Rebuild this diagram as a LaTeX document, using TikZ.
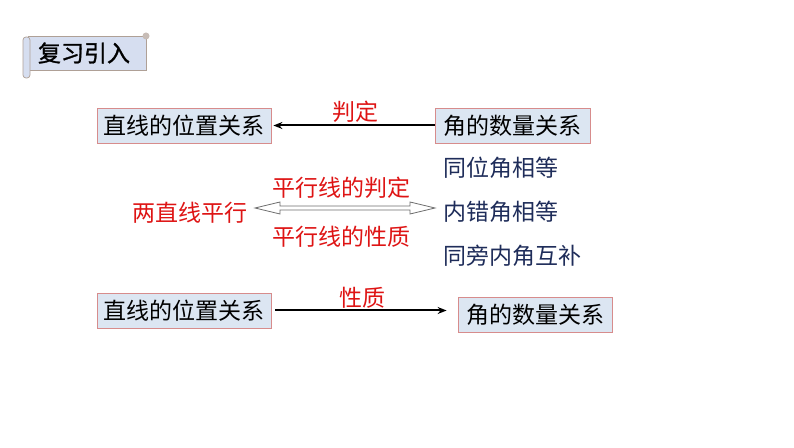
\documentclass[tikz,border=0pt]{standalone}
\usepackage{xcolor}
\usepackage{fontspec}
\usetikzlibrary{arrows.meta, positioning, calc}
\newfontfamily\cjk{Noto Sans CJK SC}
\newfontfamily\cjkheavy[FakeBold=1.2]{Noto Sans CJK SC}
\definecolor{boxfill}{RGB}{220,230,242}
\definecolor{boxline}{RGB}{215,140,140}
\definecolor{scrollfill}{RGB}{214,222,240}
\definecolor{scrollline}{RGB}{175,160,150}
\definecolor{lblred}{RGB}{222,20,20}
\definecolor{rulenavy}{RGB}{31,45,90}
\definecolor{dblgray}{RGB}{110,110,110}
\begin{document}
\begin{tikzpicture}[x=1pt, y=1pt, font=\cjk\fontsize{23}{26}\selectfont,
  relbox/.style={draw=boxline, line width=0.8pt, fill=boxfill, minimum height=35pt, inner sep=0pt},
  redtxt/.style={text=lblred, inner sep=1pt},
  navytxt/.style={text=rulenavy, inner sep=1pt, anchor=west}]
\useasboundingbox (0,0) rectangle (794,447);
% title scroll
\fill[scrollfill, draw=scrollline, line width=0.7pt] (28,377) rectangle (146,411);
\fill[scrollfill, draw=scrollline, line width=0.7pt, rounded corners=3pt] (23,369) rectangle (30,410);
\fill[scrollline!70] (146,411) circle (3.5pt);
\node[font=\cjkheavy\fontsize{23}{26}\selectfont] (title) at (84,394) {复习引入};
% upper row
\node[relbox, minimum width=174pt] (lineA) at (184,321.5) {直线的位置关系};
\node[relbox, minimum width=155pt] (angA) at (512.5,321.5) {角的数量关系};
\draw[-{Stealth[length=9pt, width=7pt]}, line width=2pt, shorten >=2pt] (angA) -- (lineA);
\node[redtxt] (judge) at (355,335) {判定};
% middle part
\node[redtxt, anchor=east] (par) at (249,234) {两直线平行};
\node[navytxt] (tong) at (442,279) {同位角相等};
\node[navytxt] (nei) at (442,235) {内错角相等};
\node[navytxt] (pang) at (442,191) {同旁内角互补};
\node[redtxt] (pjud) at (341,259) {平行线的判定};
\node[redtxt] (pprop) at (341,210) {平行线的性质};
\coordinate (la) at ($(par.east)+(6,5)$);
\coordinate (ra) at ($(nei.west)+(-7,4)$);
\fill[white, draw=dblgray, line width=0.8pt]
  (la) -- ($(la)+(25,6)$) -- ($(la)+(25,2)$) -- ($(ra)+(-25,2)$) -- ($(ra)+(-25,6)$) -- (ra)
  -- ($(ra)+(-25,-6)$) -- ($(ra)+(-25,-2)$) -- ($(la)+(25,-2)$) -- ($(la)+(25,-6)$) -- cycle;
% lower row
\node[relbox, minimum width=174pt] (lineB) at (184,136.5) {直线的位置关系};
\node[relbox, minimum width=154pt] (angB) at (535,132.5) {角的数量关系};
\draw[-{Stealth[length=9pt, width=7pt]}, line width=2pt, shorten <=4pt, shorten >=11pt] (lineB.east) -- (lineB.east -| angB.west);
\node[redtxt] (prop) at (362,149) {性质};
\end{tikzpicture}
\end{document}
